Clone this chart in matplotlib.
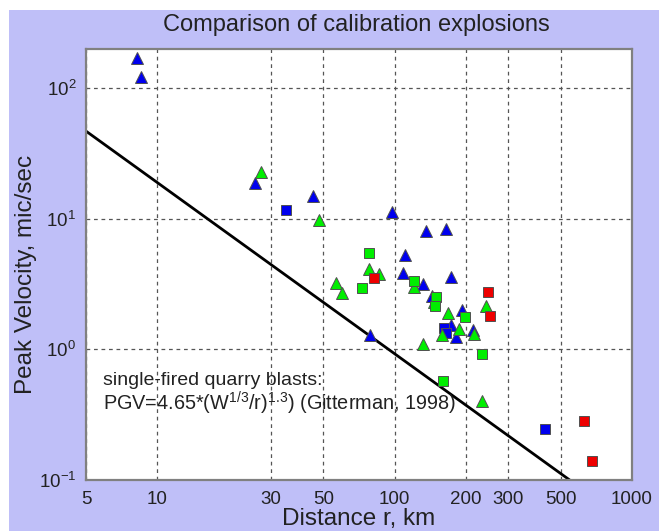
import numpy as np
import matplotlib
matplotlib.use('Agg')
import matplotlib.pyplot as plt
from matplotlib.patches import Rectangle
from matplotlib.ticker import FixedLocator, FixedFormatter, NullLocator

plt.rcParams['font.family'] = ['Liberation Sans', 'DejaVu Sans']
plt.rcParams['mathtext.fontset'] = 'custom'
plt.rcParams['mathtext.rm'] = 'Liberation Sans'
plt.rcParams['mathtext.it'] = 'Liberation Sans:italic'

# --- data (distance km, peak velocity mic/sec) ---
blue_tri_r = [8.2, 8.5, 25.8, 45.4, 97.7, 136, 164, 111, 108, 132, 173, 144, 193, 172, 182, 213, 79]
blue_tri_v = [171, 122, 18.9, 15.0, 11.3, 8.1, 8.4, 5.3, 3.85, 3.18, 3.60, 2.57, 2.01, 1.54, 1.25, 1.41, 1.29]

blue_sq_r = [34.9, 162, 164, 428]
blue_sq_v = [11.7, 1.46, 1.34, 0.246]

green_tri_r = [27.4, 48.1, 78.2, 86.1, 56.7, 60.1, 120, 147, 167, 243, 186, 158, 215, 131, 234]
green_tri_v = [22.9, 9.8, 4.14, 3.79, 3.24, 2.71, 3.01, 2.31, 1.90, 2.15, 1.44, 1.29, 1.32, 1.10, 0.403]

green_sq_r = [78.2, 73.1, 120, 150, 148, 197, 234, 160]
green_sq_v = [5.5, 2.96, 3.35, 2.52, 2.15, 1.77, 0.92, 0.574]

red_sq_r = [82.1, 248, 251, 625, 676]
red_sq_v = [3.53, 2.76, 1.81, 0.283, 0.140]

# Gitterman (1998) line, end points
line_r = [5, 546]
line_v = [47, 0.1]

xticks = [5, 10, 30, 50, 100, 200, 300, 500, 1000]
yticks = [0.1, 1, 10, 100]

W, H = 659, 531
fig = plt.figure(figsize=(W / 100, H / 100), dpi=100, facecolor='#bfbff8')

# white margins of the cropped screenshot
fig.patches.append(Rectangle((0, 1 - 10 / H), 1, 10 / H, transform=fig.transFigure,
                             facecolor='white', edgecolor='none', zorder=0))
fig.patches.append(Rectangle((0, 0), 9 / W, 1, transform=fig.transFigure,
                             facecolor='white', edgecolor='none', zorder=0))

ax = fig.add_axes([86 / W, 1 - 480 / H, (632 - 86) / W, (480 - 49) / H])
ax.set_xscale('log')
ax.set_yscale('log')
ax.set_xlim(5, 1000)
ax.set_ylim(0.1, 200)

ax.plot(line_r, line_v, color='black', lw=2.0, zorder=2)

mk = dict(linestyle='none', markeredgecolor='#505050', markeredgewidth=0.7, zorder=3)
ax.plot(blue_tri_r, blue_tri_v, marker='^', ms=9, color='#0000ee', **mk)
ax.plot(blue_sq_r, blue_sq_v, marker='s', ms=7, color='#0000ee', **mk)
ax.plot(green_tri_r, green_tri_v, marker='^', ms=9, color='#00ee00', **mk)
ax.plot(green_sq_r, green_sq_v, marker='s', ms=7, color='#00ee00', **mk)
ax.plot(red_sq_r, red_sq_v, marker='s', ms=7, color='#ee0000', **mk)

ax.xaxis.set_major_locator(FixedLocator(xticks))
ax.xaxis.set_major_formatter(FixedFormatter([str(t) for t in xticks]))
ax.xaxis.set_minor_locator(NullLocator())
ax.yaxis.set_major_locator(FixedLocator(yticks))
ax.yaxis.set_major_formatter(FixedFormatter(['10$^{-1}$', '10$^{0}$', '10$^{1}$', '10$^{2}$']))
ax.yaxis.set_minor_locator(NullLocator())
ax.tick_params(axis='both', length=0, labelsize=13.5, colors='#222222')
ax.tick_params(axis='x', pad=8)
ax.tick_params(axis='y', pad=7)

ax.grid(True, which='major', color='#555555', linestyle=(0, (3, 3)), lw=0.9)
for s in ax.spines.values():
    s.set_color('#808080')
    s.set_linewidth(1.6)

ax.text(0.031, 0.232, 'single-fired quarry blasts:', transform=ax.transAxes,
        fontsize=14, va='center', ha='left', color='#222222')
ax.text(0.031, 0.178, 'PGV=4.65*(W$^{1/3}$/r)$^{1.3}$) (Gitterman, 1998)',
        transform=ax.transAxes, fontsize=14.3, va='center', ha='left', color='#222222')

fig.text(356 / W, 1 - 25 / H, 'Comparison of calibration explosions', ha='center',
         va='center', fontsize=17, color='#222222')
fig.text(359 / W, 1 - 519 / H, 'Distance r, km', ha='center', va='center',
         fontsize=17.5, color='#222222')
fig.text(26 / W, 1 - 274 / H, 'Peak Velocity, mic/sec', ha='center', va='center',
         rotation=90, fontsize=17.5, color='#222222')

fig.savefig('out.png', dpi=100, facecolor=fig.get_facecolor())
